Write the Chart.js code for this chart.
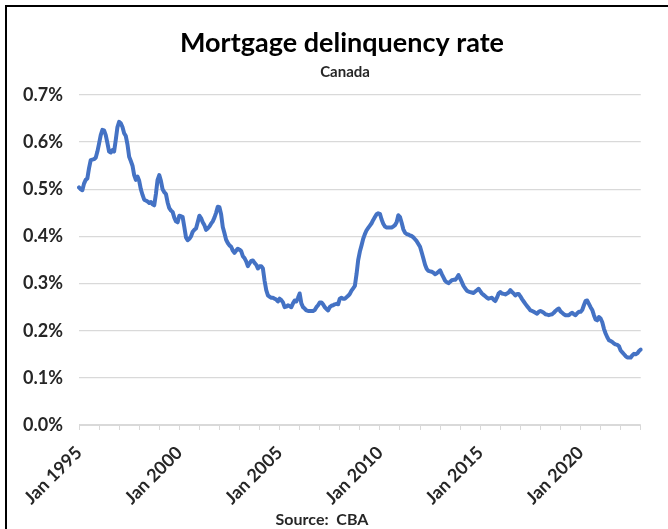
<!DOCTYPE html>
<html>
<head>
<meta charset="utf-8">
<script src="https://cdn.jsdelivr.net/npm/chart.js@4/dist/chart.umd.min.js"></script>
<style>
  html, body { margin: 0; padding: 0; background: #ffffff; }
  canvas { display: block; }
</style>
</head>
<body>
<canvas id="chart" width="668" height="529"></canvas>
<script>
// Monthly series, Jan 1995 onward (percent of mortgages in arrears)
const monthNames = ['Jan', 'Feb', 'Mar', 'Apr', 'May', 'Jun', 'Jul', 'Aug', 'Sep', 'Oct', 'Nov', 'Dec'];
const startYear = 1995;
const delinquencyRate = [
  0.504, 0.500, 0.498, 0.512, 0.520, 0.523, 0.545, 0.562, 0.563, 0.564, 0.567, 0.580, // 1995
  0.597, 0.615, 0.626, 0.625, 0.615, 0.598, 0.580, 0.578, 0.583, 0.580, 0.605, 0.632, // 1996
  0.643, 0.640, 0.632, 0.619, 0.613, 0.595, 0.569, 0.560, 0.550, 0.530, 0.520, 0.527, // 1997
  0.518, 0.500, 0.488, 0.478, 0.476, 0.474, 0.471, 0.473, 0.468, 0.466, 0.490, 0.520, // 1998
  0.530, 0.518, 0.500, 0.494, 0.490, 0.472, 0.460, 0.455, 0.452, 0.440, 0.432, 0.430, // 1999
  0.444, 0.443, 0.441, 0.420, 0.398, 0.392, 0.395, 0.400, 0.410, 0.414, 0.417, 0.430, // 2000
  0.444, 0.439, 0.430, 0.424, 0.414, 0.417, 0.421, 0.427, 0.432, 0.440, 0.450, 0.463, // 2001
  0.462, 0.447, 0.420, 0.407, 0.393, 0.386, 0.381, 0.378, 0.370, 0.365, 0.370, 0.374, // 2002
  0.372, 0.369, 0.358, 0.354, 0.347, 0.337, 0.343, 0.348, 0.349, 0.344, 0.340, 0.332, // 2003
  0.337, 0.337, 0.332, 0.306, 0.286, 0.275, 0.272, 0.270, 0.270, 0.268, 0.266, 0.262, // 2004
  0.268, 0.265, 0.260, 0.250, 0.251, 0.254, 0.252, 0.250, 0.258, 0.264, 0.262, 0.270, // 2005
  0.279, 0.258, 0.250, 0.247, 0.243, 0.242, 0.242, 0.242, 0.242, 0.244, 0.250, 0.254, // 2006
  0.260, 0.260, 0.256, 0.250, 0.246, 0.243, 0.250, 0.253, 0.254, 0.256, 0.257, 0.256, // 2007
  0.268, 0.270, 0.268, 0.268, 0.271, 0.274, 0.278, 0.285, 0.290, 0.295, 0.320, 0.350, // 2008
  0.368, 0.381, 0.395, 0.405, 0.413, 0.418, 0.423, 0.428, 0.435, 0.441, 0.447, 0.449, // 2009
  0.448, 0.436, 0.427, 0.421, 0.419, 0.419, 0.419, 0.419, 0.421, 0.424, 0.430, 0.445, // 2010
  0.441, 0.429, 0.415, 0.408, 0.405, 0.404, 0.402, 0.401, 0.398, 0.394, 0.390, 0.384, // 2011
  0.378, 0.366, 0.353, 0.340, 0.331, 0.327, 0.326, 0.325, 0.323, 0.320, 0.322, 0.325, // 2012
  0.328, 0.320, 0.313, 0.306, 0.303, 0.301, 0.304, 0.307, 0.308, 0.308, 0.312, 0.318, // 2013
  0.311, 0.303, 0.295, 0.290, 0.285, 0.283, 0.282, 0.281, 0.280, 0.283, 0.286, 0.289, // 2014
  0.284, 0.279, 0.276, 0.273, 0.270, 0.268, 0.269, 0.270, 0.266, 0.263, 0.270, 0.279, // 2015
  0.282, 0.279, 0.278, 0.277, 0.279, 0.281, 0.286, 0.282, 0.279, 0.275, 0.278, 0.278, // 2016
  0.273, 0.267, 0.262, 0.257, 0.252, 0.248, 0.243, 0.242, 0.240, 0.238, 0.236, 0.240, // 2017
  0.242, 0.240, 0.238, 0.235, 0.234, 0.233, 0.234, 0.235, 0.238, 0.242, 0.245, 0.247, // 2018
  0.241, 0.238, 0.235, 0.233, 0.233, 0.233, 0.236, 0.238, 0.235, 0.233, 0.237, 0.240, // 2019
  0.240, 0.244, 0.254, 0.263, 0.264, 0.257, 0.250, 0.244, 0.233, 0.224, 0.222, 0.229, // 2020
  0.226, 0.218, 0.204, 0.194, 0.186, 0.180, 0.178, 0.176, 0.173, 0.171, 0.170, 0.167, // 2021
  0.158, 0.154, 0.150, 0.146, 0.143, 0.143, 0.143, 0.148, 0.151, 0.150, 0.152, 0.157, // 2022
  0.160                                                                                // 2023
];
const monthLabels = delinquencyRate.map((_, i) =>
  monthNames[i % 12] + ' ' + (startYear + Math.floor(i / 12)));

const titleText = 'Mortgage delinquency rate';
const subtitleText = 'Canada';
const sourceText = 'Source:  CBA';

const FONT = 'Lato, "Open Sans", "DejaVu Sans", sans-serif';
const GRID = '#d9d9d9';
const LABEL = '#262626';

// Border frame plus heading and source line
const frameAndText = {
  id: 'frameAndText',
  afterDraw(chart) {
    const ctx = chart.ctx;
    ctx.save();
    ctx.strokeStyle = '#000000';
    ctx.lineWidth = 2;
    ctx.beginPath();
    ctx.moveTo(6, chart.height);
    ctx.lineTo(6, 6);
    ctx.lineTo(chart.width, 6);
    ctx.stroke();

    ctx.fillStyle = '#000000';
    ctx.textAlign = 'center';
    ctx.textBaseline = 'middle';
    ctx.font = 'bold 27px ' + FONT;
    ctx.fillText(titleText, 342, 43);
    ctx.fillStyle = LABEL;
    ctx.font = 'bold 15px ' + FONT;
    ctx.fillText(subtitleText, 345, 72);
    ctx.font = 'bold 16px ' + FONT;
    ctx.fillText(sourceText, 322, 520);
    ctx.restore();
  }
};

new Chart(document.getElementById('chart'), {
  type: 'line',
  data: {
    labels: monthLabels,
    datasets: [{
      data: delinquencyRate,
      borderColor: '#4472C4',
      borderWidth: 4,
      pointRadius: 0,
      tension: 0,
      borderJoinStyle: 'round',
      borderCapStyle: 'round'
    }]
  },
  options: {
    responsive: false,
    animation: false,
    devicePixelRatio: 1,
    layout: { padding: { top: 95, left: 8, right: 27, bottom: 0 } },
    plugins: { legend: { display: false }, tooltip: { enabled: false } },
    scales: {
      x: {
        type: 'category',
        grid: { drawOnChartArea: false, drawTicks: true, tickLength: 5, color: GRID },
        border: { color: GRID, width: 1 },
        afterBuildTicks(scale) {
          scale.ticks = scale.ticks.filter(t => t.value % 12 === 0);
        },
        ticks: {
          autoSkip: false,
          minRotation: 45,
          maxRotation: 45,
          padding: 12,
          color: LABEL,
          font: { family: FONT, size: 18, weight: 'bold' },
          callback(value) {
            return value % 60 === 0 ? this.getLabelForValue(value) : '';
          }
        },
        afterFit(scale) { scale.height = 104; }
      },
      y: {
        min: 0,
        max: 0.7,
        ticks: {
          stepSize: 0.1,
          padding: 16,
          color: LABEL,
          font: { family: FONT, size: 18, weight: 'bold' },
          callback: v => v.toFixed(1) + '%'
        },
        grid: { color: GRID, lineWidth: 1.3, drawTicks: false },
        border: { display: false },
        afterFit(scale) { scale.width = 71; }
      }
    }
  },
  plugins: [frameAndText]
});
</script>
</body>
</html>
